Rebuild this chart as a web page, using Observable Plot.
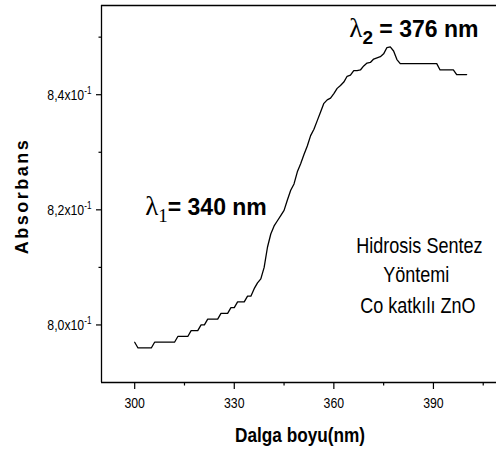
<!DOCTYPE html>
<html><head><meta charset="utf-8">
<script src="https://cdn.jsdelivr.net/npm/d3@7"></script>
<script src="https://cdn.jsdelivr.net/npm/@observablehq/plot@0.6"></script>
<style>body{margin:0;background:#fff} svg{display:block}</style>
</head><body><div id="chart"></div>
<script>
// ---- data ----
const wavelength = [300,301,302,303,304,305,306,307,308,309,310,311,312,313,314,315,316,317,318,319,320,321,322,323,324,325,326,327,328,329,330,331,332,333,334,335,336,337,338,339,340,341,342,343,344,345,346,347,348,349,350,351,352,353,354,355,356,357,358,359,360,361,362,363,364,365,366,367,368,369,370,371,372,373,374,375,376,377,378,379,380,381,382,383,384,385,386,387,388,389,390,391,392,393,394,395,396,397,398,399,400];
const absorbance = [0.797,0.796,0.796,0.796,0.796,0.796,0.797,0.797,0.797,0.797,0.797,0.797,0.797,0.798,0.798,0.798,0.798,0.799,0.799,0.799,0.800,0.800,0.801,0.801,0.801,0.801,0.802,0.802,0.802,0.803,0.803,0.804,0.804,0.804,0.805,0.805,0.8063,0.8073,0.808,0.810,0.8135,0.8158,0.8172,0.8181,0.819,0.8199,0.8217,0.8234,0.8245,0.8266,0.828,0.8296,0.8311,0.8329,0.834,0.8355,0.837,0.8385,0.8391,0.8394,0.8402,0.8411,0.8416,0.8422,0.8432,0.8434,0.8442,0.8442,0.8443,0.8450,0.8455,0.8456,0.8462,0.8464,0.8466,0.8471,0.8482,0.8483,0.8476,0.8461,0.8454,0.8454,0.8454,0.8454,0.8454,0.8454,0.8454,0.8454,0.8454,0.8454,0.8454,0.8454,0.8443,0.8443,0.8443,0.8443,0.8443,0.8435,0.8435,0.8435,0.8435];
const xTicks = [300, 330, 360, 390];
const xMinorTicks = [315, 345, 375, 405];
const yTicks = [0.80, 0.82, 0.84];
const yTickLabels = ["8,0x10", "8,2x10", "8,4x10"];
const yTickExponent = "-1";
const yMinorTicks = [0.81, 0.83, 0.85];
const xDomain = [290, 409];
const yDomain = [0.79, 0.8555];
const xTitle = "Dalga boyu(nm)";
const yTitle = "Absorbans";
const noteLines = ["Hidrosis Sentez", "Yöntemi", "Co katkılı ZnO"];
const peakLabels = [{sym: "λ", sub: "1", rest: "= 340 nm"}, {sym: "λ", sub: "2", rest: " = 376 nm"}];

const data = wavelength.map((w, i) => ({w, a: absorbance[i]}));
const NARROW = "'Liberation Sans Narrow','Arial Narrow','Liberation Sans',Arial,sans-serif";
const SANS = "'Liberation Sans',Arial,sans-serif";
const SERIF = "'Liberation Serif','Times New Roman',serif";
const SQUEEZE = 0.82;

const plot = Plot.plot({
  width: 496, height: 453,
  marginLeft: 101, marginRight: 0, marginTop: 5, marginBottom: 71,
  style: {fontFamily: SANS, fontSize: "15px", color: "black", background: "white", overflow: "visible"},
  x: {domain: xDomain},
  y: {domain: yDomain},
  marks: [
    Plot.ruleX([xDomain[0]], {stroke: "black", strokeWidth: 1.3}),
    Plot.ruleY([yDomain[0], yDomain[1]], {stroke: "black", strokeWidth: 1.3}),
    Plot.axisX({ticks: xTicks, tickSize: 7, tickPadding: 8, tickFormat: d => String(d), label: null, strokeWidth: 1.2}),
    Plot.axisX({ticks: xMinorTicks, tickSize: 3.5, tickFormat: () => "", label: null, strokeWidth: 1.2}),
    Plot.axisY({ticks: yTicks, tickSize: 5, tickPadding: 5, tickFormat: d => yTickLabels[yTicks.indexOf(d)], label: null, strokeWidth: 1.2}),
    Plot.axisY({ticks: yMinorTicks, tickSize: 2.5, tickFormat: () => "", label: null, strokeWidth: 1.2}),
    Plot.line(data, {x: "w", y: "a", stroke: "black", strokeWidth: 1.3})
  ]
});
document.getElementById("chart").appendChild(plot);

const svg = d3.select(plot);
const sx = plot.scale("x"), sy = plot.scale("y");

// condense a text element horizontally about its anchor point
function squeeze(node) {
  const tr = node.getAttribute("transform");
  if (tr) {
    node.setAttribute("transform", tr + ` scale(${SQUEEZE},1)`);
  } else {
    const x = +node.getAttribute("x") || 0, y = +node.getAttribute("y") || 0;
    node.setAttribute("x", 0); node.setAttribute("y", 0);
    node.setAttribute("transform", `translate(${x},${y}) scale(${SQUEEZE},1)`);
  }
}

// superscript exponent on y tick labels
svg.selectAll('g[aria-label="y-axis tick label"] text').each(function() {
  const t = this.textContent;
  if (!t) return;
  const el = d3.select(this);
  el.text(null);
  el.append("tspan").text(t);
  el.append("tspan").attr("font-size", 10).attr("dy", "-6").text(yTickExponent);
  squeeze(this);
});
svg.selectAll('g[aria-label="x-axis tick label"] text').each(function() {
  if (this.textContent) squeeze(this);
});

const g = svg.append("g").attr("fill", "black").attr("text-anchor", "start");

// axis titles
const xt = g.append("text").attr("x", 300).attr("y", 441.5).attr("text-anchor", "middle")
  .attr("font-family", SANS).attr("font-weight", "bold").attr("font-size", 21).text(xTitle);
squeeze(xt.node());
g.append("text").attr("transform", "translate(28,196) rotate(-90)").attr("text-anchor", "middle")
  .attr("font-family", SANS).attr("font-weight", "bold").attr("font-size", 18).attr("letter-spacing", 2.5).text(yTitle);

// peak labels
function peak(lbl, nm, val, subFamily, subWeight) {
  const t = g.append("text").attr("x", sx.apply(nm)).attr("y", sy.apply(val)).style("white-space", "pre");
  t.append("tspan").attr("font-family", SERIF).attr("font-size", 27).text(lbl.sym);
  t.append("tspan").attr("font-family", subFamily).attr("font-weight", subWeight).attr("font-size", 19).attr("dy", 7).text(lbl.sub);
  t.append("tspan").attr("font-family", SANS).attr("font-weight", "bold").attr("font-size", 23).attr("dy", -7).text(lbl.rest);
}
peak(peakLabels[0], 303.3, 0.8190, SERIF, "normal");
peak(peakLabels[1], 364.8, 0.8499, SANS, "bold");

// sample note
const noteX = [366.9, 375.0, 368.1];
const noteY = [0.81235, 0.80741, 0.80202];
noteLines.forEach((s, i) => {
  const t = g.append("text").attr("x", sx.apply(noteX[i])).attr("y", sy.apply(noteY[i]))
    .attr("font-family", SANS).attr("font-size", 22).text(s);
  squeeze(t.node());
});
</script></body></html>
